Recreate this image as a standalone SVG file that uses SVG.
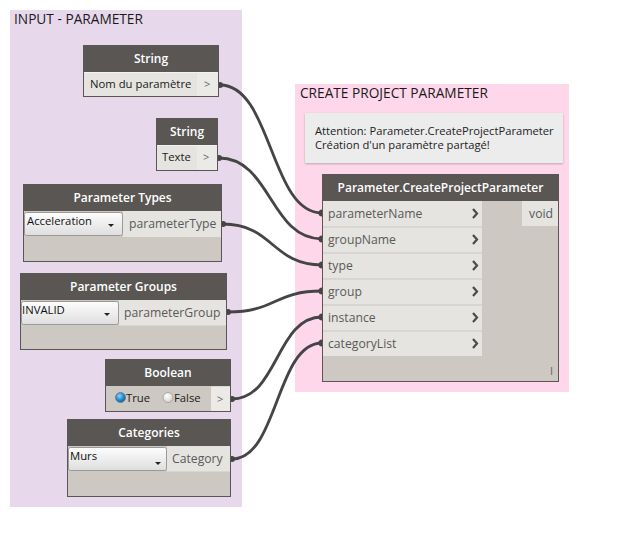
<svg xmlns="http://www.w3.org/2000/svg" width="642" height="540" viewBox="0 0 642 540">
<defs>
<linearGradient id="dd" x1="0" y1="0" x2="0" y2="1">
<stop offset="0" stop-color="#fdfdfd"/><stop offset="1" stop-color="#dedede"/>
</linearGradient>
<radialGradient id="rbOn" cx="0.4" cy="0.35" r="0.7">
<stop offset="0" stop-color="#8fd3f7"/><stop offset="0.6" stop-color="#1e88c8"/><stop offset="1" stop-color="#0f5c8e"/>
</radialGradient>
<radialGradient id="rbOff" cx="0.4" cy="0.35" r="0.7">
<stop offset="0" stop-color="#ffffff"/><stop offset="1" stop-color="#cfcfcf"/>
</radialGradient>
<filter id="sh" x="-5%" y="-10%" width="110%" height="130%">
<feDropShadow dx="0" dy="1" stdDeviation="1.2" flood-color="#000" flood-opacity="0.25"/>
</filter>
</defs>
<style>
text{font-family:"Open Sans","Noto Sans","DejaVu Sans",sans-serif;}
.grp{font-size:13.7px;fill:#1a1a1a;}
.hdr{fill:#595653;}
.htx{font-size:12px;font-weight:600;fill:#ffffff;text-anchor:middle;}
.body{fill:#cdc9c2;stroke:#595653;stroke-width:1;}
.row{fill:#e5e4e0;}
.port{fill:#ebeae7;}
.lbl{font-size:11.3px;fill:#1a1a1a;}
.plbl{font-size:12.2px;fill:#5a5a5a;}
.out{font-size:11px;fill:#666;}
.ddb{fill:url(#dd);stroke:#9a9a9a;stroke-width:1;}
.ddt{font-size:11.3px;fill:#111;}
.arr{fill:#222;}
.sep{stroke:#c9c7c3;stroke-width:1;}
.chev{fill:none;stroke:#4a4a4a;stroke-width:2.2;}
.wire{fill:none;stroke:#454545;stroke-width:2.8;}
.dot{fill:#454545;}
.note{font-size:11.2px;fill:#222;}
</style>

<!-- groups -->
<g id="group-input">
<rect x="10" y="10" width="232" height="497" fill="#e7d9eb"/>
<text class="grp" x="14" y="24">INPUT - PARAMETER</text>
</g>
<g id="group-create">
<rect x="295" y="84" width="274" height="308" fill="#fed8ea"/>
<text class="grp" x="300" y="98">CREATE PROJECT PARAMETER</text>
</g>

<!-- connectors -->
<g id="connectors">
<path class="wire" d="M220,85 C272,85 270,213 322,213"/>
<path class="wire" d="M219,158 C271,158 270,239 322,239"/>
<path class="wire" d="M223,224 C273,224 272,265 322,265"/>
<path class="wire" d="M228,312 C276,312 274,291 322,291"/>
<path class="wire" d="M232,399 C278,399 276,317 322,317"/>
<path class="wire" d="M232,459 C278,459 276,343 322,343"/>
<circle class="dot" cx="220" cy="85" r="3"/>
<circle class="dot" cx="219" cy="158" r="3"/>
<circle class="dot" cx="223" cy="224" r="3"/>
<circle class="dot" cx="228" cy="312" r="3"/>
<circle class="dot" cx="232" cy="399" r="3"/>
<circle class="dot" cx="232" cy="459" r="3"/>
<circle class="dot" cx="322" cy="213" r="3.5"/>
<circle class="dot" cx="322" cy="239" r="3.5"/>
<circle class="dot" cx="322" cy="265" r="3.5"/>
<circle class="dot" cx="322" cy="291" r="3.5"/>
<circle class="dot" cx="322" cy="317" r="3.5"/>
<circle class="dot" cx="322" cy="343" r="3.5"/>
</g>

<!-- String 1 -->
<g id="node-string-1">
<rect class="body" x="83.5" y="45.5" width="135" height="51"/>
<rect class="hdr" x="83" y="45" width="136" height="27"/>
<text class="htx" x="151" y="63">String</text>
<rect class="row" x="84" y="72.5" width="113" height="23.5"/>
<rect class="port" x="197" y="72.5" width="21" height="23.5"/>
<line x1="84" y1="72.5" x2="218" y2="72.5" stroke="#f2f2f2" stroke-width="1"/>
<text class="lbl" x="90" y="88">Nom du paramètre</text>
<text class="out" x="204" y="88">&gt;</text>
</g>

<!-- String 2 -->
<g id="node-string-2">
<rect class="body" x="156.5" y="118.5" width="61" height="52"/>
<rect class="hdr" x="156" y="118" width="62" height="27"/>
<text class="htx" x="187" y="136">String</text>
<rect class="row" x="157" y="145.5" width="40" height="24.5"/>
<rect class="port" x="197" y="145.5" width="20" height="24.5"/>
<line x1="157" y1="145.5" x2="217" y2="145.5" stroke="#f2f2f2" stroke-width="1"/>
<text class="lbl" x="162" y="161">Texte</text>
<text class="out" x="203" y="161">&gt;</text>
</g>

<!-- Parameter Types -->
<g id="node-parameter-types">
<rect class="body" x="23.5" y="184.5" width="198" height="77"/>
<rect class="hdr" x="23" y="184" width="199" height="27"/>
<text class="htx" x="122.5" y="202">Parameter Types</text>
<rect class="row" x="123" y="211" width="98" height="26"/>
<rect class="ddb" x="24.5" y="212.5" width="98" height="23" rx="2"/>
<text class="ddt" x="27" y="225">Acceleration</text>
<polygon class="arr" points="108,224 114,224 111,227"/>
<text class="plbl" x="129" y="228">parameterType</text>
</g>

<!-- Parameter Groups -->
<g id="node-parameter-groups">
<rect class="body" x="20.5" y="273.5" width="206" height="76"/>
<rect class="hdr" x="20" y="273" width="207" height="27"/>
<text class="htx" x="123.5" y="291">Parameter Groups</text>
<rect class="row" x="119" y="300" width="107" height="25.5"/>
<rect class="ddb" x="21.5" y="301.5" width="97" height="23" rx="2"/>
<text class="ddt" x="22" y="314">INVALID</text>
<polygon class="arr" points="104,313 110,313 107,316"/>
<text class="plbl" x="124" y="317">parameterGroup</text>
</g>

<!-- Boolean -->
<g id="node-boolean">
<rect class="body" x="105.5" y="359.5" width="125" height="52"/>
<rect class="hdr" x="105" y="359" width="126" height="27"/>
<text class="htx" x="168" y="377">Boolean</text>
<rect class="port" x="211" y="386.5" width="19" height="24.5"/>
<circle cx="120.5" cy="397.5" r="5" fill="url(#rbOn)" stroke="#5a7a90" stroke-width="0.8"/>
<text class="lbl" x="126" y="402">True</text>
<circle cx="168" cy="397.5" r="5" fill="url(#rbOff)" stroke="#9a9a9a" stroke-width="0.8"/>
<text class="lbl" x="174" y="402">False</text>
<text class="out" x="217" y="403">&gt;</text>
</g>

<!-- Categories -->
<g id="node-categories">
<rect class="body" x="67.5" y="419.5" width="163" height="77"/>
<rect class="hdr" x="67" y="419" width="164" height="27"/>
<text class="htx" x="149" y="437">Categories</text>
<rect class="row" x="167" y="446" width="63" height="25.5"/>
<rect class="ddb" x="68.5" y="447.5" width="98" height="23" rx="2"/>
<text class="ddt" x="70" y="460">Murs</text>
<polygon class="arr" points="155,462 161,462 158,465"/>
<text class="plbl" x="172" y="463">Category</text>
</g>

<!-- Note -->
<g id="note">
<rect x="305" y="113" width="258" height="50" fill="#ececec" filter="url(#sh)"/>
<text class="note" x="315" y="134.5">Attention: Parameter.CreateProjectParameter</text>
<text class="note" x="315" y="149">Création d'un paramètre partagé!</text>
</g>

<!-- Main node -->
<g id="node-create-project-parameter">
<rect class="body" x="322.5" y="174.5" width="236" height="207"/>
<rect class="hdr" x="322" y="174" width="237" height="27"/>
<text class="htx" x="440.5" y="192">Parameter.CreateProjectParameter</text>
<rect class="row" x="323" y="201" width="159" height="155"/>
<rect class="row" x="522" y="201" width="36" height="25"/>
<line class="sep" x1="323" y1="227" x2="482" y2="227"/>
<line class="sep" x1="323" y1="253" x2="482" y2="253"/>
<line class="sep" x1="323" y1="279" x2="482" y2="279"/>
<line class="sep" x1="323" y1="305" x2="482" y2="305"/>
<line class="sep" x1="323" y1="331" x2="482" y2="331"/>
<text class="plbl" x="328" y="218">parameterName</text>
<text class="plbl" x="328" y="244">groupName</text>
<text class="plbl" x="328" y="270">type</text>
<text class="plbl" x="328" y="296">group</text>
<text class="plbl" x="328" y="322">instance</text>
<text class="plbl" x="328" y="348">categoryList</text>
<polyline class="chev" points="473,209 477,213.5 473,218"/>
<polyline class="chev" points="473,235 477,239.5 473,244"/>
<polyline class="chev" points="473,261 477,265.5 473,270"/>
<polyline class="chev" points="473,287 477,291.5 473,296"/>
<polyline class="chev" points="473,313 477,317.5 473,322"/>
<polyline class="chev" points="473,339 477,343.5 473,348"/>
<text class="plbl" x="553" y="218" text-anchor="end">void</text>
<text class="out" x="550" y="375" font-size="9">I</text>
</g>
</svg>
